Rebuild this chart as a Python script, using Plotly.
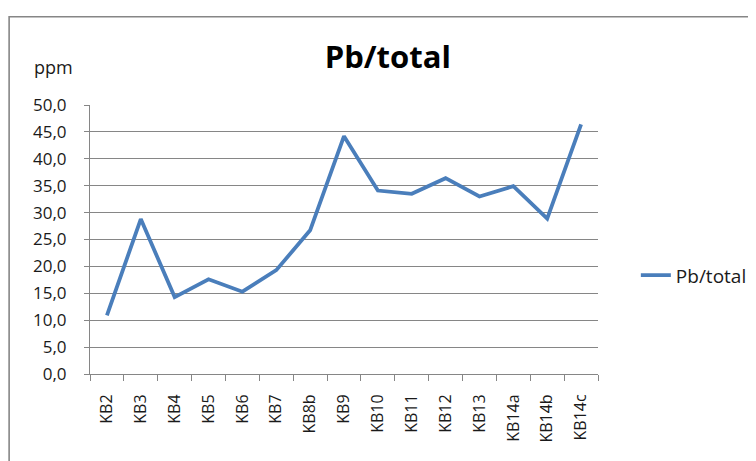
import plotly.graph_objects as go

categories = ["KB2", "KB3", "KB4", "KB5", "KB6", "KB7", "KB8b", "KB9", "KB10",
              "KB11", "KB12", "KB13", "KB14a", "KB14b", "KB14c"]
pb_total = [10.9, 28.8, 14.3, 17.6, 15.3, 19.3, 26.7, 44.2, 34.1,
            33.5, 36.4, 33.0, 34.9, 28.9, 46.4]
y_ticks = [0, 5, 10, 15, 20, 25, 30, 35, 40, 45, 50]

W, H = 756, 461
OFF = 8  # page offset of the figure inside the browser window
# plot area in screen coordinates
SL, SR, ST, SB = 90, 600, 104.7, 373.7
L, T = SL - OFF, ST - OFF
R = W - (SR - OFF)
B = H - (SB - OFF)
pw, ph = SR - SL, SB - ST

def px(x):
    return (x - SL) / pw

def py(y):
    return (SB - y) / ph

font = "Open Sans"
txt = "#1a1a1a"

fig = go.Figure()
fig.add_trace(go.Scatter(
    x=categories, y=pb_total, mode="lines", name="Pb/total",
    line=dict(color="#4A7EBB", width=3.8),
))

fig.update_layout(
    width=W, height=H,
    margin=dict(l=L, r=R, t=T, b=B),
    paper_bgcolor="white", plot_bgcolor="white",
    separators=", ",
    font=dict(family=font, size=16, color=txt),
    title=dict(text="<b>Pb/total</b>", xref="paper", x=px(389), xanchor="center",
               y=1 - (57 - OFF) / H, yanchor="middle",
               font=dict(family=font, size=31, color="#000000")),
    showlegend=True,
    legend=dict(x=px(638), y=py(275), xanchor="left", yanchor="middle",
                font=dict(family=font, size=19, color=txt),
                bgcolor="rgba(0,0,0,0)"),
    xaxis=dict(
        type="category", tickson="boundaries", ticks="outside", ticklen=6,
        tickcolor="#868686", showline=True, linecolor="#868686", linewidth=1,
        showgrid=False, tickangle=-90, ticklabelstandoff=13,
        tickfont=dict(family=font, size=16, color=txt),
        range=[-0.5, len(categories) - 0.5],
    ),
    yaxis=dict(
        range=[0, 50], tickvals=y_ticks, tickformat=".1f",
        ticks="outside", ticklen=5, tickcolor="#868686",
        showline=True, linecolor="#868686", linewidth=1,
        showgrid=True, gridcolor="#868686", gridwidth=1,
        zeroline=False, ticklabelstandoff=14,
        tickfont=dict(family=font, size=17, color=txt),
    ),
    annotations=[dict(text="ppm", x=px(53), y=py(67), xref="paper", yref="paper",
                      xanchor="center", yanchor="middle", showarrow=False,
                      font=dict(family=font, size=18, color=txt))],
    shapes=[dict(type="rect", xref="paper", yref="paper",
                 x0=px(OFF + 0.8), y0=py(490), x1=px(790), y1=py(16.5),
                 line=dict(color="#868686", width=1.6), layer="below")],
)

fig.write_html("out.html")
